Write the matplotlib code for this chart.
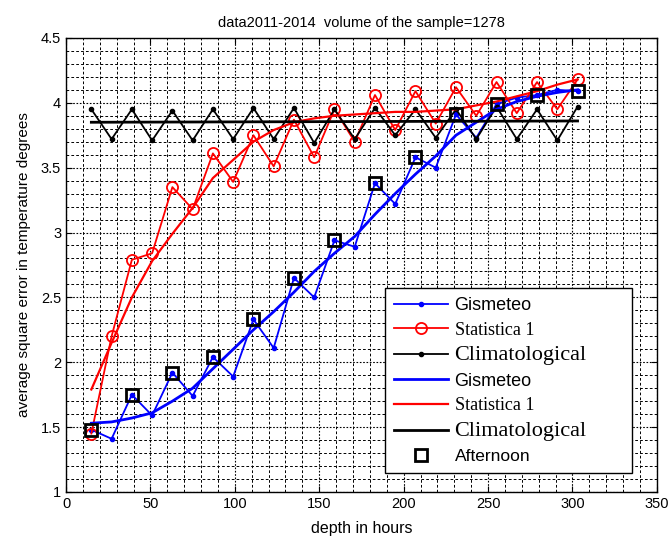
import numpy as np
import matplotlib
matplotlib.use("Agg")
import matplotlib.pyplot as plt
from matplotlib.ticker import MultipleLocator

# lead time, hours (every 12 h)
depth = [15, 27, 39, 51, 63, 75, 87, 99, 111, 123, 135, 147, 159,
         171, 183, 195, 207, 219, 231, 243, 255, 267, 279, 291, 303]

gismeteo = [1.48, 1.41, 1.75, 1.59, 1.92, 1.74, 2.04, 1.89, 2.33, 2.11,
            2.65, 2.50, 2.94, 2.89, 3.38, 3.22, 3.58, 3.50, 3.91, 3.73,
            3.99, 4.04, 4.06, 4.10, 4.09]
statistica = [1.45, 2.20, 2.79, 2.84, 3.35, 3.18, 3.61, 3.39, 3.75, 3.51,
              3.87, 3.58, 3.95, 3.70, 4.06, 3.79, 4.09, 3.84, 4.12, 3.90,
              4.16, 3.92, 4.16, 3.95, 4.18]
climat = [3.95, 3.72, 3.95, 3.71, 3.94, 3.71, 3.95, 3.72, 3.96, 3.72,
          3.96, 3.69, 3.95, 3.72, 3.96, 3.75, 3.95, 3.73, 3.95, 3.72,
          3.97, 3.72, 3.95, 3.71, 3.97]

# smoothed curves
gismeteo_trend = [1.53, 1.54, 1.57, 1.61, 1.70, 1.80, 1.95, 2.10, 2.25, 2.39,
                  2.54, 2.70, 2.84, 2.97, 3.14, 3.30, 3.45, 3.59, 3.75, 3.85,
                  3.95, 4.01, 4.05, 4.08, 4.10]
statistica_trend = [1.79, 2.15, 2.50, 2.78, 2.99, 3.19, 3.42, 3.56, 3.70, 3.79,
                    3.85, 3.88, 3.90, 3.91, 3.92, 3.93, 3.93, 3.94, 3.95, 3.98,
                    4.01, 4.05, 4.09, 4.14, 4.18]
climat_trend_x = [15, 303]
climat_trend = [3.85, 3.86]

# afternoon terms
afternoon_x = [15, 39, 63, 87, 111, 135, 159, 183, 207, 231, 255, 279, 303]
afternoon = [1.48, 1.75, 1.92, 2.04, 2.33, 2.65, 2.94, 3.38, 3.58, 3.91,
             3.99, 4.06, 4.09]

narrow = ['Liberation Sans Narrow', 'Liberation Sans', 'DejaVu Sans']

fig = plt.figure(figsize=(6.71, 5.42), dpi=100)
ax = fig.add_axes([0.0984, 0.0923, 0.8806, 0.8377])

l1, = ax.plot(depth, gismeteo, '.-', color='blue', lw=1.3, ms=6)
l2, = ax.plot(depth, statistica, 'o-', color='red', lw=1.3, ms=8,
              mfc='none', mew=1.3)
l3, = ax.plot(depth, climat, '.-', color='black', lw=1.3, ms=6)
l4, = ax.plot(depth, gismeteo_trend, '-', color='blue', lw=2)
l5, = ax.plot(depth, statistica_trend, '-', color='red', lw=1.6)
l6, = ax.plot(climat_trend_x, climat_trend, '-', color='black', lw=2)
l7, = ax.plot(afternoon_x, afternoon, 's', color='black', ms=9,
              mfc='none', mew=2, linestyle='none')

ax.set_xlim(0, 350)
ax.set_ylim(1, 4.5)
ax.xaxis.set_major_locator(MultipleLocator(50))
ax.xaxis.set_minor_locator(MultipleLocator(10))
ax.yaxis.set_minor_locator(MultipleLocator(0.1))
ax.set_yticks(np.arange(1, 4.51, 0.5))
ax.set_yticklabels(['1', '1.5', '2', '2.5', '3', '3.5', '4', '4.5'])

ax.grid(which='major', color='black', linestyle=(0, (1.5, 1.5)), lw=0.8)
ax.grid(which='minor', color='black', linestyle=(0, (2.8, 2.2)), lw=0.7)
ax.set_axisbelow(True)
ax.tick_params(which='both', direction='in', top=True, right=True)
ax.tick_params(which='major', length=4, labelsize=10.5)
ax.tick_params(which='minor', length=0)
for lab in ax.get_xticklabels() + ax.get_yticklabels():
    lab.set_family(narrow)
for s in ax.spines.values():
    s.set_linewidth(1.0)

ax.set_xlabel('depth in hours', family=narrow, fontsize=11.5, labelpad=7)
ax.set_ylabel('average square error in temperature degrees',
              family=['Liberation Sans', 'DejaVu Sans'], fontsize=11,
              labelpad=7)
ax.set_title('data2011-2014  volume of the sample=1278', family=narrow,
             fontsize=10.5, pad=8)

labels = ['Gismeteo', 'Statistica 1', 'Climatological', 'Gismeteo',
          'Statistica 1', 'Climatological', 'Afternoon']
x0, y1 = 385 / 671, 1 - 288 / 542
w = 247 / 671
leg = ax.legend([l1, l2, l3, l4, l5, l6, l7], labels,
                loc='upper left', bbox_to_anchor=(x0, y1 - 0.4, w, 0.4),
                mode='expand', bbox_transform=fig.transFigure,
                borderaxespad=0, fancybox=False, framealpha=1,
                edgecolor='black', prop={'size': 13}, handlelength=3.0,
                handletextpad=0.35, labelspacing=0.42, borderpad=0.5)
leg.get_frame().set_linewidth(1.0)
sans = ['Liberation Sans', 'DejaVu Sans']
serif = ['Liberation Serif', 'DejaVu Serif']
styles = [(sans, 13), (serif, 13), (serif, 16), (sans, 13),
          (serif, 13), (serif, 16), (sans, 12.5)]
for txt, (fam, size) in zip(leg.get_texts(), styles):
    txt.set_family(fam)
    txt.set_fontsize(size)

fig.savefig('out.png', dpi=100)
